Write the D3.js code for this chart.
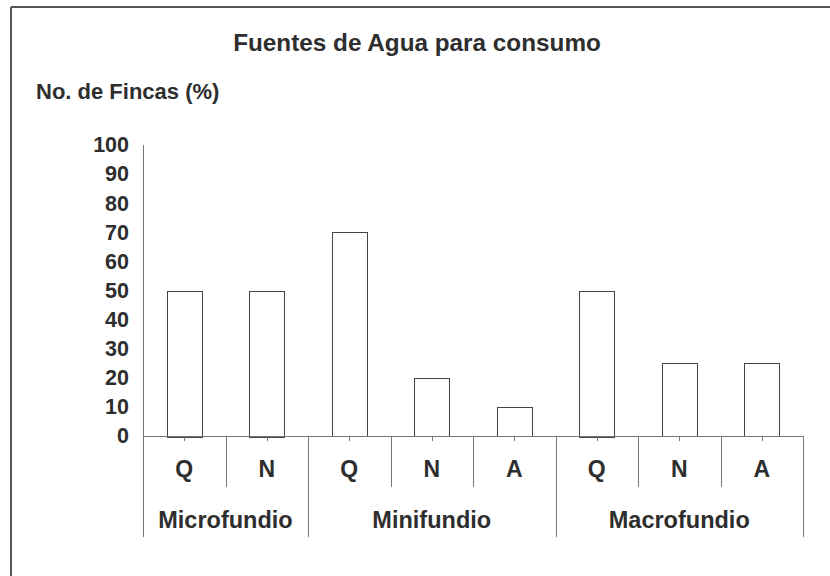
<!DOCTYPE html>
<html>
<head>
<meta charset="utf-8">
<script src="https://cdn.jsdelivr.net/npm/d3@7"></script>
<style>
  html, body { margin: 0; padding: 0; background: #fff; }
  svg { display: block; }
  text { font-family: "Liberation Sans", Arial, Helvetica, sans-serif; font-weight: bold; fill: #2e2e2e; }
</style>
</head>
<body>
<svg id="chart" width="830" height="576"></svg>
<script>
// ---- data ----
const groups = ["Microfundio", "Minifundio", "Macrofundio"];
const categories = ["Q", "N", "Q", "N", "A", "Q", "N", "A"];
const categoryGroup = [0, 0, 1, 1, 1, 2, 2, 2];
const values = [50, 50, 70, 20, 10, 50, 25, 25];
const yTicks = [0, 10, 20, 30, 40, 50, 60, 70, 80, 90, 100];
const chartTitle = "Fuentes de Agua para consumo";
const yTitle = "No. de Fincas (%)";

(function () {
  const svg = d3.select("#chart");
  const plotLeft = 143, plotRight = 803, plotTop = 145, zeroY = 436;
  const lineColor = "#777";

  // frame (top + left border)
  svg.append("line").attr("x1", 11).attr("x2", 830).attr("y1", 7).attr("y2", 7)
    .attr("stroke", "#555").attr("stroke-width", 2);
  svg.append("line").attr("x1", 11).attr("x2", 11).attr("y1", 7).attr("y2", 576)
    .attr("stroke", "#555").attr("stroke-width", 2);

  svg.append("text").attr("x", 417).attr("y", 51).attr("text-anchor", "middle")
    .style("font-size", "24.3px").text(chartTitle);
  svg.append("text").attr("x", 36).attr("y", 99)
    .style("font-size", "22px").text(yTitle);

  const y = d3.scaleLinear().domain([0, 100]).range([zeroY, plotTop]);
  const x = d3.scaleBand().domain(d3.range(categories.length)).range([plotLeft, plotRight]);
  const barW = 35;

  // y axis
  const yAxis = d3.axisLeft(y).tickValues(yTicks).tickSize(0).tickPadding(14);
  const ya = svg.append("g").attr("transform", `translate(${plotLeft},0)`).call(yAxis);
  ya.select(".domain").remove();
  ya.attr("font-family", null).attr("font-size", null);
  ya.selectAll("text").style("font-size", "21.5px").attr("fill", null);
  svg.append("line").attr("x1", plotLeft + 0.5).attr("x2", plotLeft + 0.5).attr("y1", plotTop).attr("y2", 537)
    .attr("stroke", lineColor);

  // bars
  svg.append("g").selectAll("rect").data(values).join("rect")
    .attr("x", (d, i) => Math.round(x(i) + x.bandwidth() / 2 - barW / 2) + 0.5)
    .attr("y", d => Math.round(y(d)) + 0.5)
    .attr("width", barW)
    .attr("height", d => Math.round(zeroY - y(d)))
    .attr("fill", "#fff").attr("stroke", "#444").attr("stroke-width", 1);

  // x axis line
  svg.append("line").attr("x1", plotLeft).attr("x2", plotRight).attr("y1", zeroY + 0.5).attr("y2", zeroY + 0.5)
    .attr("stroke", lineColor);

  // small center ticks
  svg.append("g").selectAll("line").data(categories).join("line")
    .attr("x1", (d, i) => Math.round(x(i) + x.bandwidth() / 2) + 0.5)
    .attr("x2", (d, i) => Math.round(x(i) + x.bandwidth() / 2) + 0.5)
    .attr("y1", zeroY).attr("y2", zeroY + 5).attr("stroke", lineColor);

  // category boundaries
  const n = categories.length;
  const bounds = d3.range(1, n + 1);
  svg.append("g").selectAll("line").data(bounds).join("line")
    .attr("x1", i => Math.round(i < n ? x(i) : plotRight) + 0.5)
    .attr("x2", i => Math.round(i < n ? x(i) : plotRight) + 0.5)
    .attr("y1", zeroY)
    .attr("y2", i => (i === n || categoryGroup[i] !== categoryGroup[i - 1]) ? 537 : 487)
    .attr("stroke", lineColor);

  // category labels
  svg.append("g").selectAll("text").data(categories).join("text")
    .attr("x", (d, i) => x(i) + x.bandwidth() / 2)
    .attr("y", 477).attr("text-anchor", "middle")
    .style("font-size", "23px").text(d => d);

  // group labels
  svg.append("g").selectAll("text").data(groups).join("text")
    .attr("x", (g, gi) => {
      const idx = categoryGroup.map((c, i) => c === gi ? i : -1).filter(i => i >= 0);
      return (x(idx[0]) + x(idx[idx.length - 1]) + x.bandwidth()) / 2;
    })
    .attr("y", 528).attr("text-anchor", "middle")
    .style("font-size", "23.5px").text(d => d);
})();
</script>
</body>
</html>
